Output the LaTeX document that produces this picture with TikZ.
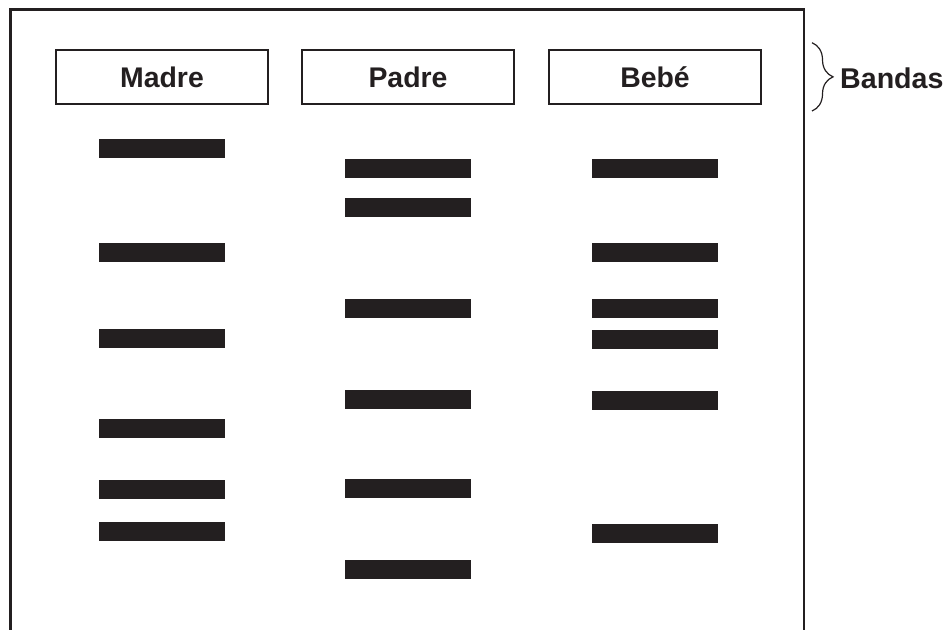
\documentclass[tikz,border=0pt]{standalone}
\usepackage{fontspec}
\setmainfont{Liberation Sans}
\usetikzlibrary{decorations.pathreplacing}
\definecolor{ink}{HTML}{231F20}
\begin{document}
\begin{tikzpicture}[x=1pt,y=-1pt,
  frameline/.style={draw=ink,line width=2.6pt},
  lanebox/.style={draw=ink,line width=2.6pt,rectangle,minimum width=212pt,minimum height=54pt,
    inner sep=0pt,text height=20.4pt,text depth=0pt,font=\fontsize{28.4}{34}\selectfont\bfseries,text=ink},
  band/.style={fill=ink,draw=none,rectangle,minimum width=125.7pt,minimum height=19.2pt,inner sep=0pt,anchor=north},
  bracestyle/.style={draw=ink,line width=1.2pt,decorate,decoration={brace,amplitude=21pt,aspect=0.5}},
  sidelabel/.style={font=\fontsize{28.6}{34}\selectfont\bfseries,text=ink,anchor=base west,inner sep=0pt}]
\useasboundingbox (0,0) rectangle (952,629);
% frame (open at the bottom)
\coordinate (fbl) at (10.3,632);
\coordinate (ftl) at (10.3,9.5);
\coordinate (ftr) at (804,9.5);
\coordinate (fbr) at (804,632);
\draw[frameline] (fbl) -- (ftl) -- (ftr) -- (fbr);
% lane headers
\node[lanebox] (madre) at (162,77) {Madre};
\node[lanebox] (padre) at (408,77) {Padre};
\node[lanebox] (bebe) at (655,77) {Bebé};
% bands
\foreach \y [count=\i] in {138.3,242.7,328.3,418.7,480,522}
  \node[band] (m\i) at (161.9,\y) {};
\foreach \y [count=\i] in {159,197.7,298.3,390,478.3,560}
  \node[band] (p\i) at (408.1,\y) {};
\foreach \y [count=\i] in {159,242.3,298.7,330,390.7,524}
  \node[band] (b\i) at (654.8,\y) {};
% brace and label
\coordinate (btop) at (812,42.7);
\coordinate (bbot) at (812,111);
\draw[bracestyle] (btop) -- (bbot);
\node[sidelabel] (bandas) at (840,88.3) {Bandas};
\end{tikzpicture}
\end{document}
